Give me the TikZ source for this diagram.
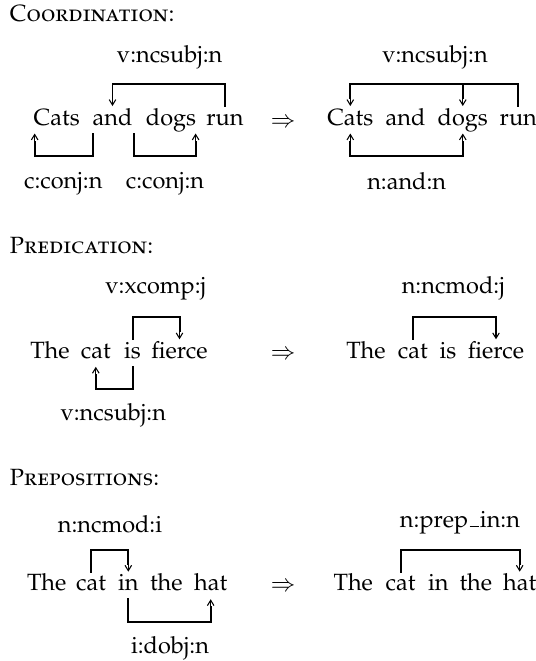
\documentclass[tikz,border=0pt]{standalone}
\usepackage[T1]{fontenc}
\usepackage[sc]{mathpazo}
\usetikzlibrary{arrows.meta,calc}
\newcommand{\lowbar}{\leavevmode\kern.06em\vbox{\hrule width.42em height .45pt}\kern.02em}
\begin{document}
\begin{tikzpicture}[x=0.4255pt,y=-0.4255pt,
  every node/.style={inner sep=0pt, outer sep=0pt, font=\fontsize{10}{12}\selectfont},
  word/.style={anchor=base},
  lbl/.style={anchor=base},
  ttl/.style={anchor=base west},
  impl/.style={anchor=center},
  link/.style={line width=0.85pt, line cap=rect},
  tip/.style={line width=0.45pt, -{Straight Barb[length=2.3pt,width=2.8pt]}}
]
\useasboundingbox (0,0) rectangle (536,661);

% ---------------- Coordination ----------------
\node[ttl] (t1) at (10,21) {\textsc{Coordination:}};

\node[word] (c1) at (56.7,125) {Cats};
\node[word] (a1) at (112.5,125) {and};
\node[word] (d1) at (171,125) {dogs};
\node[word] (r1) at (225,125) {run};

\node[lbl] (l1a) at (169.7,62) {v:ncsubj:n};
\node[lbl] (l1b) at (63.3,188) {c:conj:n};
\node[lbl] (l1c) at (165,188) {c:conj:n};

% run -> and (top)
\draw[link] ($(r1.base)+(0,-19)$) -- ($(r1.base)+(0,-41)$) -| ($(a1.base)+(0,-27)$);
\draw[tip] ($(a1.base)+(0,-27)$) -- ($(a1.base)+(0,-19)$);
% and -> Cats (bottom)
\draw[link] ($(a1.base west)+(0.8,8.5)$) -- ($(a1.base west)+(0.8,31)$) -| ($(c1.base west)+(1,16.5)$);
\draw[tip] ($(c1.base west)+(1,16.5)$) -- ($(c1.base west)+(1,8.5)$);
% and -> dogs (bottom)
\draw[link] ($(a1.base east)+(1.5,8.5)$) -- ($(a1.base east)+(1.5,31)$) -| ($(d1.base east)+(-0.5,16.5)$);
\draw[tip] ($(d1.base east)+(-0.5,16.5)$) -- ($(d1.base east)+(-0.5,8.5)$);

\node[impl] (i1) at (283,122.7) {$\Rightarrow$};

\node[word] (c2) at (350.3,125) {Cats};
\node[word] (a2) at (405.5,125) {and};
\node[word] (d2) at (462.8,125) {dogs};
\node[word] (r2) at (518.3,125) {run};

\node[lbl] (l2a) at (435,62) {v:ncsubj:n};
\node[lbl] (l2b) at (406.7,189) {n:and:n};

% run -> Cats, run -> dogs (top)
\draw[link] ($(r2.base)+(0,-19)$) -- ($(r2.base)+(0,-41)$) -| ($(c2.base)+(0,-27)$);
\draw[link] ($(d2.base)+(0,-41)$) -- ($(d2.base)+(0,-27)$);
\draw[tip] ($(c2.base)+(0,-27)$) -- ($(c2.base)+(0,-19)$);
\draw[tip] ($(d2.base)+(0,-27)$) -- ($(d2.base)+(0,-19)$);
% Cats <-> dogs (bottom)
\draw[link] ($(c2.base)+(0,16.5)$) |- ($(d2.base)+(0,31)$) -- ($(d2.base)+(0,16.5)$);
\draw[tip] ($(c2.base)+(0,16.5)$) -- ($(c2.base)+(0,8.5)$);
\draw[tip] ($(d2.base)+(0,16.5)$) -- ($(d2.base)+(0,8.5)$);

% ---------------- Predication ----------------
\node[ttl] (t2) at (10,253.3) {\textsc{Predication:}};

\node[word] (th3) at (50,358.3) {The};
\node[word] (ca3) at (95.8,358.3) {cat};
\node[word] (is3) at (132.5,358.3) {is};
\node[word] (fi3) at (179.5,358.3) {fierce};

\node[lbl] (l3a) at (155.8,293.3) {v:xcomp:j};
\node[lbl] (l3b) at (113.3,420.7) {v:ncsubj:n};

\draw[link] ($(is3.base)+(0,-19)$) -- ($(is3.base)+(0,-41)$) -| ($(fi3.base)+(0,-27)$);
\draw[tip] ($(fi3.base)+(0,-27)$) -- ($(fi3.base)+(0,-19)$);
\draw[link] ($(is3.base)+(0,8.5)$) -- ($(is3.base)+(0,31)$) -| ($(ca3.base)+(0,16.5)$);
\draw[tip] ($(ca3.base)+(0,16.5)$) -- ($(ca3.base)+(0,8.5)$);

\node[impl] (i2) at (283,355) {$\Rightarrow$};

\node[word] (th4) at (366,358.3) {The};
\node[word] (ca4) at (412.8,358.3) {cat};
\node[word] (is4) at (448,358.3) {is};
\node[word] (fi4) at (496,358.3) {fierce};

\node[lbl] (l4a) at (453.3,293.3) {n:ncmod:j};

\draw[link] ($(ca4.base)+(0,-19)$) -- ($(ca4.base)+(0,-41)$) -| ($(fi4.base)+(0,-27)$);
\draw[tip] ($(fi4.base)+(0,-27)$) -- ($(fi4.base)+(0,-19)$);

% ---------------- Prepositions ----------------
\node[ttl] (t3) at (10,485) {\textsc{Prepositions:}};

\node[word] (th5) at (46.7,590.7) {The};
\node[word] (ca5) at (91,590.7) {cat};
\node[word] (in5) at (128.3,590.7) {in};
\node[word] (te5) at (166.3,590.7) {the};
\node[word] (ha5) at (210.7,590.7) {hat};

\node[lbl] (l5a) at (110,532.7) {n:ncmod:i};
\node[lbl] (l5b) at (170,653.3) {i:dobj:n};

\draw[link] ($(ca5.base)+(0,-19)$) -- ($(ca5.base)+(0,-41)$) -| ($(in5.base)+(0,-27)$);
\draw[tip] ($(in5.base)+(0,-27)$) -- ($(in5.base)+(0,-19)$);
\draw[link] ($(in5.base)+(0,8.5)$) -- ($(in5.base)+(0,31)$) -| ($(ha5.base)+(0,16.5)$);
\draw[tip] ($(ha5.base)+(0,16.5)$) -- ($(ha5.base)+(0,8.5)$);

\node[impl] (i3) at (283,586.7) {$\Rightarrow$};

\node[word] (th6) at (353.3,590.7) {The};
\node[word] (ca6) at (400.5,590.7) {cat};
\node[word] (in6) at (438.3,590.7) {in};
\node[word] (te6) at (475.8,590.7) {the};
\node[word] (ha6) at (519.7,590.7) {hat};

\node[lbl] (l6a) at (460,527.3) {n:prep\lowbar in:n};

\draw[link] ($(ca6.base)+(0,-19)$) -- ($(ca6.base)+(0,-41)$) -| ($(ha6.base)+(0,-27)$);
\draw[tip] ($(ha6.base)+(0,-27)$) -- ($(ha6.base)+(0,-19)$);
\end{tikzpicture}
\end{document}
